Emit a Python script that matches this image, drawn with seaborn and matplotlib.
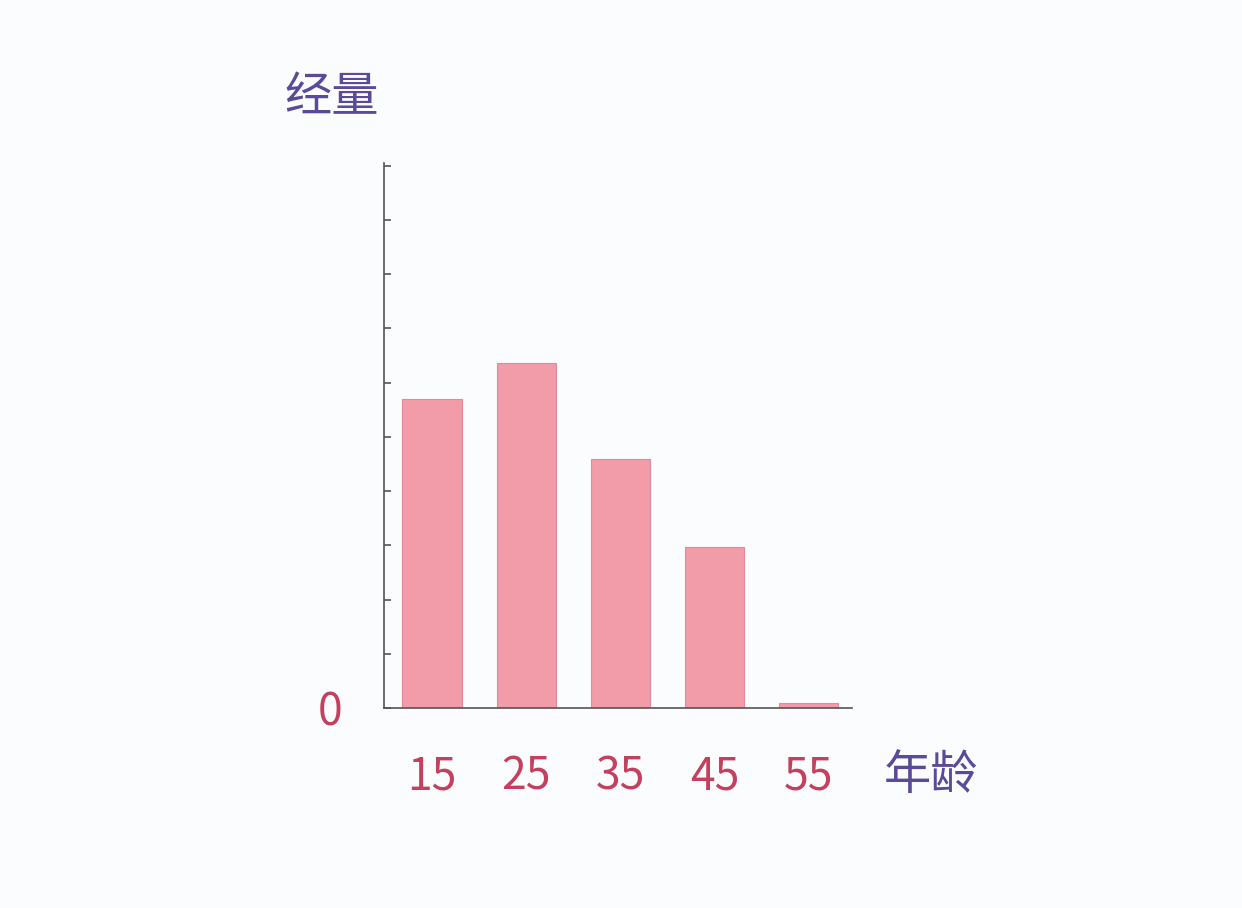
import matplotlib
matplotlib.use("Agg")
import matplotlib.pyplot as plt
import seaborn as sns
import pandas as pd

ages = ["15", "25", "35", "45", "55"]
volume = [5.69, 6.37, 4.60, 2.96, 0.09]
y_ticks = list(range(0, 11))
y_tick_labels = ["0"] + [""] * 10
x_label = "年龄"
y_label = "经量"

sns.set_theme(style="ticks")
plt.rcParams['font.family'] = ['Noto Sans CJK SC', 'DejaVu Sans']

df = pd.DataFrame({"age": ages, "volume": volume})

fig = plt.figure(figsize=(12.42, 9.08), dpi=100)
fig.patch.set_facecolor("#fbfcfe")
ax = fig.add_axes([384/1242, 200/908, 468/1242, 545/908])
ax.set_facecolor("none")

sns.barplot(data=df, x="age", y="volume", color="#f19ca8", saturation=1,
            width=0.63, edgecolor="#e4899a", linewidth=0.8, ax=ax)

ax.set_xlim(-0.51, 4.46)
ax.set_ylim(0, 10.05)
ax.set_yticks(y_ticks)
ax.set_yticklabels(y_tick_labels)
ax.set_xlabel("")
ax.set_ylabel("")

for s in ["top", "right"]:
    ax.spines[s].set_visible(False)
for s in ["left", "bottom"]:
    ax.spines[s].set_color("#555555")
    ax.spines[s].set_linewidth(1.2)

ax.tick_params(axis="y", direction="in", length=5, width=1.2, color="#555555",
               pad=30, labelsize=32, labelcolor="#c4405e")
ax.tick_params(axis="x", length=0, pad=33, labelsize=32, labelcolor="#c4405e")
for lab in ax.get_xticklabels() + ax.get_yticklabels():
    lab.set_fontweight("light")

ax.text(-0.111, 1.119, y_label, transform=ax.transAxes, ha="center", va="center",
        fontsize=34, color="#5a4a98", fontweight="light")
ax.text(1.169, -0.125, x_label, transform=ax.transAxes, ha="center", va="center",
        fontsize=34, color="#5a4a98", fontweight="light")

fig.savefig("out.png", dpi=100, facecolor=fig.get_facecolor())
